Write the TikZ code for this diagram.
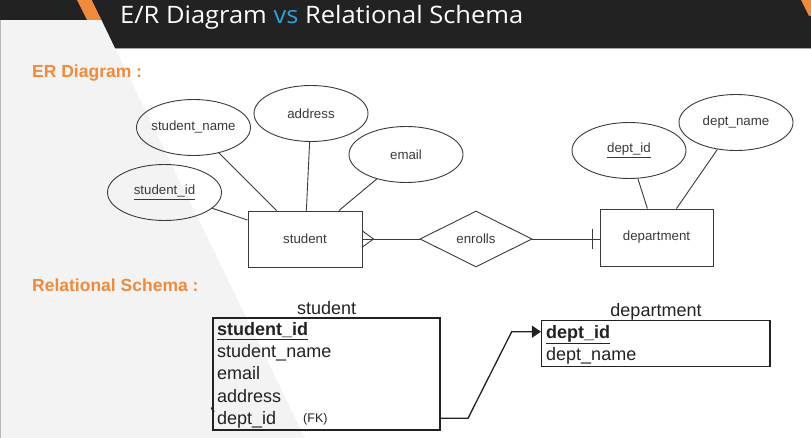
\documentclass[tikz,border=0pt]{standalone}
\usepackage{fontspec}
\setmainfont{Liberation Sans}
\newfontfamily\titlefont{Open Sans}
\usetikzlibrary{shapes.geometric,arrows.meta,calc}
\definecolor{band}{HTML}{222222}
\definecolor{orng}{HTML}{F08A3C}
\definecolor{vsblue}{HTML}{2FA0D8}
\definecolor{bgrey}{HTML}{F3F3F3}
\definecolor{ink}{HTML}{3A3A3A}
\definecolor{tabink}{HTML}{222222}
\begin{document}
\begin{tikzpicture}[x=1pt,y=-1pt,
  erfont/.style={font=\fontsize{13.3}{15}\selectfont,text=ink},
  attr/.style={ellipse,draw=ink,line width=0.9pt,minimum width=114pt,minimum height=56pt,inner xsep=-14pt,inner ysep=0pt,erfont},
  ent/.style={rectangle,draw=ink,line width=0.9pt,minimum width=114pt,minimum height=56pt,inner sep=0pt,erfont},
  rel/.style={diamond,draw=ink,line width=0.9pt,minimum width=112pt,minimum height=56pt,inner sep=0pt,aspect=2,erfont},
  link/.style={draw=ink,line width=0.9pt},
  section/.style={anchor=base west,inner sep=0pt,text=orng,font=\fontsize{17.5}{20}\selectfont\bfseries},
  tab/.style={rectangle,draw=tabink,line width=1.5pt,inner sep=0pt},
  row/.style={anchor=base west,inner sep=0pt,text=tabink,font=\fontsize{18}{21}\selectfont},
  tabtitle/.style={anchor=base,inner sep=0pt,text=tabink,font=\fontsize{18}{21}\selectfont},
  fk/.style={draw=tabink,line width=1.3pt,-{Triangle[length=9pt,width=12pt]}}
]
\useasboundingbox (0,0) rectangle (811,438);
% background
\fill[white] (0,0) rectangle (811,438);
\fill[bgrey] (0,20) -- (101.6,20) -- (115,48) -- (305,438) -- (0,438) -- cycle;
\draw[gray!55,line width=1pt] (0.5,20) -- (0.5,438);
% header
\fill[band] (0,0) rectangle (100,20);
\fill[orng] (77,0) -- (92,0) -- (101.6,20) -- (87,20) -- cycle;
\fill[band] (92,0) -- (811,0) -- (811,48) -- (115,48) -- cycle;
\draw[gray!70,line width=1pt] (115,48.5) -- (811,48.5);
\fill[orng] (801,0) -- (811,0) -- (811,16) -- (809,16) -- cycle;
\node[anchor=base west,inner sep=0pt,text=white,font=\titlefont\fontsize{24}{28}\selectfont] (title) at (120,23.5)
  {\resizebox{403pt}{\height}{E/R Diagram \textcolor{vsblue}{vs} Relational Schema}};
% section labels
\node[section] (erlabel) at (32,78) {ER Diagram :};
\node[section] (rslabel) at (32,292) {Relational Schema :};
% ER diagram
\node[ent] (stu) at (305,239) {student};
\node[attr] (sname) at (193.5,127.5) {student\_name};
\node[attr] (saddr) at (311,113.5) {address};
\node[attr] (semail) at (406,154.5) {email};
\node[attr] (sid) at (164.5,192.5) {\underline{student\_id}};
\node[rel] (enr) at (476,239) {enrolls};
\node[ent,minimum width=113pt,minimum height=57pt] (dep) at (656.5,237.5) {department};
\node[attr] (did) at (629,150.5) {\underline{dept\_id}};
\node[attr] (dname) at (736,122.5) {dept\_name};
\draw[link] (sname) -- (stu);
\draw[link] (saddr) -- (stu);
\draw[link] (semail) -- (stu);
\draw[link] (sid) -- (stu);
\draw[link] (did) -- (dep);
\draw[link] (dname) -- (dep);
\draw[link] (stu.east) -- (enr.west);
\draw[link] ($(stu.east)+(0,-8)$) -- ($(stu.east)+(11,0)$) -- ($(stu.east)+(0,8)$);
\coordinate (depin) at (enr.east -| dep.west);
\draw[link] (enr.east) -- (depin);
\draw[link,line width=1.1pt] ($(depin)+(-7,-10)$) -- ($(depin)+(-7,10)$);
% Relational schema
\node[tabtitle] (stitle) at (326.7,314.3) {student};
\node[tab,minimum width=227pt,minimum height=112pt] (stab) at (326.5,374) {};
\node[row] (r1) at (217,335.3) {\bfseries\underline{student\_id}};
\node[row] (r2) at (217,357.6) {student\_name};
\node[row] (r3) at (217,379.9) {email};
\node[row] (r4) at (217,402.2) {address};
\node[row] (r5) at (217,424.5) {dept\_id};
\node[anchor=base west,inner sep=0pt,text=tabink,font=\fontsize{12.5}{14}\selectfont] (fknote) at (303,422) {(FK)};
\draw[tabink,line width=1.8pt] (211.5,407.5) -- (213.8,412);
\node[tabtitle] (dtitle) at (656,316.7) {department};
\node[tab,minimum width=228.3pt,minimum height=46pt] (dtab) at (655.85,343.7) {};
\node[row] (d1) at (546,338) {\bfseries\underline{dept\_id}};
\node[row] (d2) at (546,360) {dept\_name};
\coordinate (fks) at (stab.east |- 0,418.3);
\coordinate (fkb1) at (468,418.3);
\coordinate (fkb2) at (511.7,331.7);
\coordinate (fke) at (dtab.west |- 0,331.7);
\draw[fk] (fks) -- (fkb1) -- (fkb2) -- (fke);
\end{tikzpicture}
\end{document}
